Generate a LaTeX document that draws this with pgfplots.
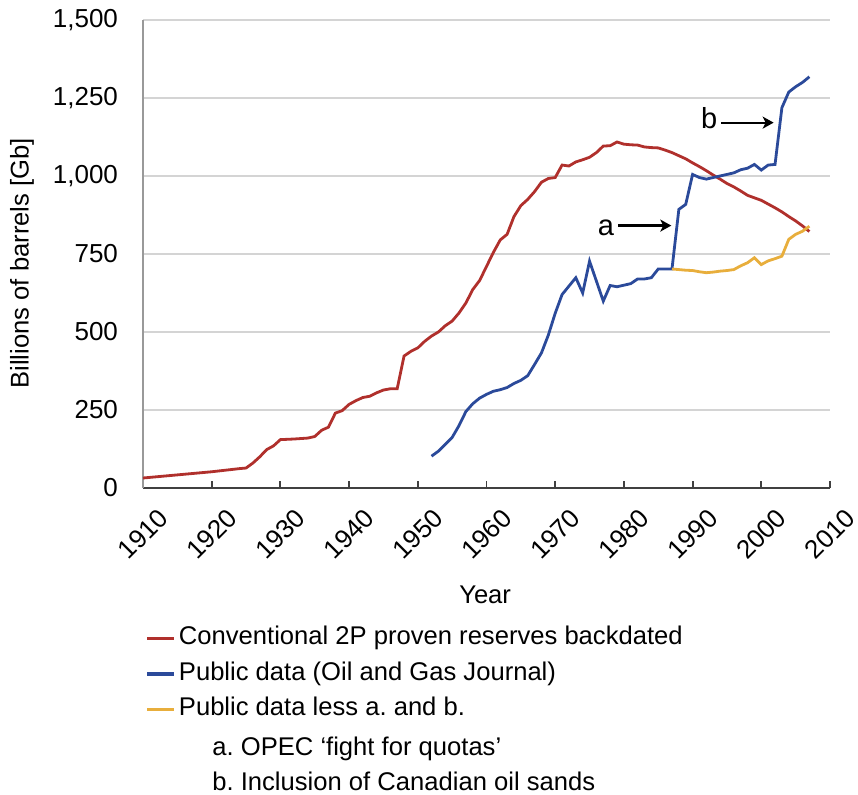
\documentclass[border=0pt]{standalone}
\usepackage{pgfplots}
\pgfplotsset{compat=1.18}
\usetikzlibrary{arrows.meta}
\usepackage{fontspec}
\setmainfont{Liberation Sans}
\frenchspacing
\definecolor{cred}{HTML}{B0302C}
\definecolor{cblue}{HTML}{2B4A9A}
\definecolor{corange}{HTML}{E8AE3C}
\definecolor{cgrid}{HTML}{D4D4D4}
\newcommand{\fs}{\fontsize{12.8}{15}\selectfont}
\newcommand{\ft}{\fontsize{13}{15}\selectfont}
\newcommand{\fa}{\fontsize{14.5}{17}\selectfont}

\begin{document}
\begin{tikzpicture}
\useasboundingbox (-71.5pt,-153.5pt) rectangle (357.5pt,244pt);
\begin{axis}[
  at={(0pt,0pt)}, anchor=south west,
  scale only axis, width=343.5pt, height=234pt,
  xmin=1910, xmax=2010, ymin=0, ymax=1500,
  axis x line*=bottom, axis y line*=left,
  x axis line style={draw=black!75, line width=1pt},
  y axis line style={draw=black!40, line width=1pt},
  xtick={1910,1920,1930,1940,1950,1960,1970,1980,1990,2000,2010},
  xticklabels={1910,1920,1930,1940,1950,1960,1970,1980,1990,2000,2010},
  ytick={0,250,500,750,1000,1250,1500},
  yticklabels={0,250,500,750,{1,000},{1,250},{1,500}},
  xtick align=inside,
  major tick length=3.5pt,
  xtick style={draw=black!75, line width=0.9pt},
  ytick style={draw=none},
  ymajorgrids,
  grid style={cgrid, line width=0.9pt},
  tick label style={font=\ft},
  xticklabel style={rotate=45, anchor=center},
  xticklabel shift=23pt,
  yticklabel shift=9pt,
  xlabel={Year},
  ylabel={Billions of barrels [Gb]},
  label style={font=\fs},
  xlabel style={at={(axis description cs:0.498,-0.229)}, anchor=center},
  ylabel style={at={(axis description cs:-0.176,0.48)}, anchor=center},
  legend cell align=left,
  legend style={draw=none, fill=none, inner sep=0pt, outer sep=0pt,
    at={(axis description cs:0.004,-0.2835)}, anchor=north west,
    font=\fs, row sep=0pt,
    nodes={inner xsep=1.5pt, inner ysep=2.75pt, text height=9.25pt, text depth=3pt}},
  legend image code/.code={\draw[#1, line width=1.6pt] (0pt,0pt) -- (13.5pt,0pt);},
  clip=false,
]
\addplot[cred, line width=1.4pt] coordinates {
(1910,32) (1915,42) (1920,52) (1924,62) (1925,64) (1926,80) (1927,100) (1928,123)
(1929,135) (1930,155) (1932,157) (1934,160) (1935,165) (1936,185) (1937,195)
(1938,240) (1939,248) (1940,268) (1941,280) (1942,290) (1943,294) (1944,305)
(1945,314) (1946,318) (1947,318) (1948,423) (1949,438) (1950,449) (1951,470)
(1952,487) (1953,500) (1954,520) (1955,535) (1956,561) (1957,593) (1958,636)
(1959,665) (1960,710) (1961,755) (1962,795) (1963,813) (1964,870) (1965,905)
(1966,925) (1967,950) (1968,980) (1969,992) (1970,995) (1971,1035) (1972,1032)
(1973,1045) (1974,1052) (1975,1060) (1976,1075) (1977,1096) (1978,1097) (1979,1109)
(1980,1102) (1981,1100) (1982,1099) (1983,1093) (1984,1091) (1985,1090) (1986,1083)
(1987,1075) (1988,1065) (1989,1055) (1990,1042) (1991,1030) (1992,1017) (1993,1003)
(1994,990) (1995,976) (1996,965) (1997,952) (1998,938) (1999,930) (2000,922)
(2001,910) (2002,898) (2003,885) (2004,870) (2005,856) (2006,840) (2007,822)
};
\addlegendentry{Conventional 2P proven reserves backdated}
\addplot[cblue, line width=1.4pt] coordinates {
(1952,102) (1953,118) (1954,140) (1955,162) (1956,200) (1957,245) (1958,270)
(1959,288) (1960,300) (1961,310) (1962,315) (1963,322) (1964,335) (1965,345)
(1966,360) (1967,396) (1968,433) (1969,490) (1970,560) (1971,620) (1972,647)
(1973,674) (1974,625) (1975,727) (1976,663) (1977,599) (1978,649) (1979,645)
(1980,650) (1981,655) (1982,670) (1983,670) (1984,674) (1985,702) (1986,702)
(1987,702) (1988,893) (1989,909) (1990,1005) (1991,995) (1992,990) (1993,995)
(1994,1000) (1995,1005) (1996,1010) (1997,1020) (1998,1025) (1999,1037) (2000,1019)
(2001,1035) (2002,1037) (2003,1219) (2004,1269) (2005,1286) (2006,1300) (2007,1318)
};
\addlegendentry{Public data (Oil and Gas Journal)}
\addplot[corange, line width=1.4pt] coordinates {
(1987,702) (1988,700) (1989,698) (1990,697) (1991,693) (1992,690) (1993,692)
(1994,695) (1995,697) (1996,700) (1997,712) (1998,722) (1999,738) (2000,716)
(2001,728) (2002,735) (2003,743) (2004,797) (2005,813) (2006,823) (2007,839)
};
\addlegendentry{Public data less a. and b.}
\draw[-{Stealth[length=5.5pt,width=6pt,inset=1.5pt]}, line width=1.1pt] (axis cs:1979.2,841) -- (axis cs:1986.9,841);
\node[font=\fa, inner sep=0pt] at (axis cs:1977.4,834) {a};
\draw[-{Stealth[length=5.5pt,width=6pt,inset=1.5pt]}, line width=1.1pt] (axis cs:1994.2,1171) -- (axis cs:2001.8,1171);
\node[font=\fa, inner sep=0pt] at (axis cs:1992.4,1185) {b};
\end{axis}
\node[font=\fs, anchor=west, inner sep=0pt] at (34.5pt,-130.25pt) {a. OPEC `fight for quotas'};
\node[font=\fs, anchor=west, inner sep=0pt] at (34.5pt,-146.75pt) {b. Inclusion of Canadian oil sands};
\end{tikzpicture}
\end{document}
